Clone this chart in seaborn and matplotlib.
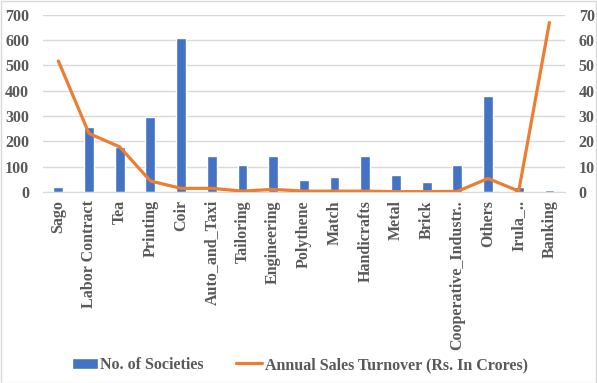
import matplotlib
matplotlib.use("Agg")
import matplotlib.pyplot as plt
from matplotlib.patches import Rectangle
import seaborn as sns
import pandas as pd

# chart data
categories = ['Sago', 'Labor Contract', 'Tea', 'Printing', 'Coir', 'Auto_and_Taxi',
              'Tailoring', 'Engineering', 'Polythene', 'Match', 'Handicrafts', 'Metal',
              'Brick', 'Cooperative_Industr..', 'Others', 'Irula_..', 'Banking']
societies = [19, 257, 179, 298, 610, 140, 107, 140, 47, 60, 140, 68, 39, 108, 381, 20, 8]
turnover = [51.8, 23.1, 17.8, 4.3, 1.4, 1.4, 0.3, 1.0, 0.3, 0.3, 0.3, 0.1, 0.1, 0.2, 5.3, 0.3, 67.0]

BLUE = '#4472C4'
ORANGE = '#ED7D31'
GREY = '#595959'
FS = 11.5

sns.set_style('white')
plt.rcParams['font.family'] = ['Liberation Serif', 'DejaVu Serif']
plt.rcParams['font.weight'] = 'bold'

df = pd.DataFrame({'cat': categories, 'soc': societies, 'turn': turnover})

fig, ax = plt.subplots(figsize=(5.97, 3.83), dpi=100)
fig.subplots_adjust(left=0.072, right=0.946, top=0.961, bottom=0.499)

sns.barplot(data=df, x='cat', y='soc', color=BLUE, width=0.32, saturation=1, ax=ax,
            label='No. of Societies', zorder=2)
if ax.get_legend() is not None:
    ax.get_legend().remove()
ax.set_ylim(0, 700)
ax.set_yticks(range(0, 701, 100))
ax.yaxis.grid(True, color='#D9D9D9', linewidth=1)
ax.set_axisbelow(True)
ax.set_xlabel('')
ax.set_ylabel('')
ax.set_xlim(-0.5, len(categories) - 0.5)

ax2 = ax.twinx()
sns.lineplot(x=list(range(len(categories))), y=df['turn'], color=ORANGE, linewidth=2.3,
             ax=ax2, label='Annual Sales Turnover (Rs. In Crores)', legend=False)
ax2.set_ylim(0, 70)
ax2.set_yticks(range(0, 71, 10))
ax2.set_ylabel('')

for a in (ax, ax2):
    for s in a.spines.values():
        s.set_visible(False)
    a.tick_params(length=0, labelsize=FS, colors=GREY)
ax.spines['bottom'].set_visible(True)
ax.spines['bottom'].set_color('#D9D9D9')
ax.tick_params(axis='x', rotation=90, pad=6)
ax.tick_params(axis='y', pad=10)
ax2.tick_params(axis='y', pad=10)
for t in ax.get_xticklabels() + ax.get_yticklabels() + ax2.get_yticklabels():
    t.set_fontweight('bold')

h1, l1 = ax.get_legend_handles_labels()
h2, l2 = ax2.get_legend_handles_labels()
leg = fig.legend(h1 + h2, l1 + l2, loc='center', bbox_to_anchor=(0.502, 0.047), ncol=2,
                 frameon=False, fontsize=FS, handlelength=1.65, columnspacing=2.0,
                 handletextpad=0.15)
for t in leg.get_texts():
    t.set_color(GREY)
    t.set_fontweight('bold')

fig.patches.append(Rectangle((0.001, 0.001), 0.997, 0.997, transform=fig.transFigure,
                             fill=False, edgecolor='#D9D9D9', linewidth=1))

fig.savefig('out.png', dpi=100)
